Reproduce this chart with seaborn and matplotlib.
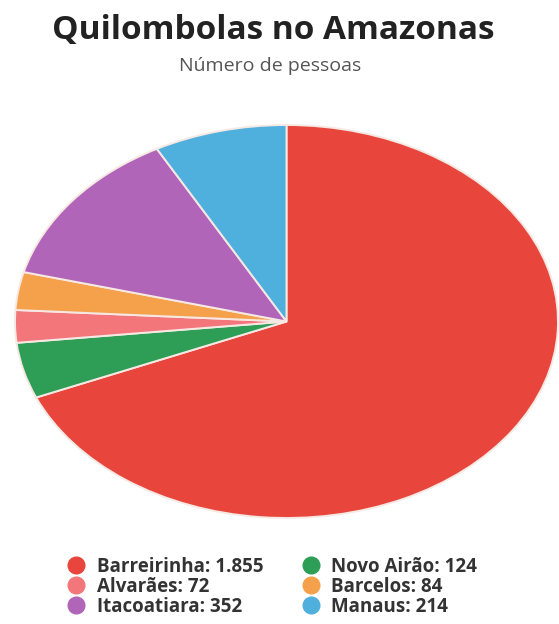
import matplotlib
matplotlib.use("Agg")
import matplotlib.pyplot as plt
from matplotlib.lines import Line2D
import seaborn as sns

TITLE = "Quilombolas no Amazonas"
SUBTITLE = "Número de pessoas"

municipios = ["Barreirinha", "Novo Airão", "Alvarães", "Barcelos", "Itacoatiara", "Manaus"]
pessoas = [1855, 124, 72, 84, 352, 214]
valores_txt = ["1.855", "124", "72", "84", "352", "214"]
cores = ["#E8453C", "#2E9E57", "#F2767A", "#F5A04A", "#B065B8", "#4FB0DE"]


def main() -> None:
    sns.set_theme(style="white")
    plt.rcParams["font.family"] = ["Open Sans", "DejaVu Sans"]

    fig = plt.figure(figsize=(5.59, 6.24), dpi=100)
    ax = fig.add_axes([15 / 559, 106 / 624, 543 / 559, 393 / 624])

    ax.pie(
        pessoas,
        colors=cores,
        startangle=90,
        counterclock=False,
        radius=1.0,
        wedgeprops={"edgecolor": "#F6E9E4", "linewidth": 1.4},
    )
    ax.set_aspect("auto")
    ax.set_xlim(-1.0, 1.0)
    ax.set_ylim(-1.0, 1.0)
    ax.axis("off")

    fig.text(273 / 559, 1 - 30 / 624, TITLE, ha="center", va="center",
             fontsize=24, fontweight="bold", color="#222222")
    fig.text(270 / 559, 1 - 66 / 624, SUBTITLE, ha="center", va="center",
             fontsize=14, color="#555555")

    handles = [
        Line2D([], [], marker="o", linestyle="none", markersize=12,
               markerfacecolor=c, markeredgecolor=c)
        for c in cores
    ]
    labels = [f"{m}: {v}" for m, v in zip(municipios, valores_txt)]
    # legend fills column-wise, reorder so rows read left to right
    order = [0, 2, 4, 1, 3, 5]
    leg = fig.legend(
        [handles[i] for i in order],
        [labels[i] for i in order],
        ncol=2,
        loc="center",
        bbox_to_anchor=(272 / 559, 1 - 587 / 624),
        frameon=False,
        handlelength=1.0,
        handletextpad=0.6,
        columnspacing=2.0,
        labelspacing=0.0,
        borderpad=0.0,
        prop={"size": 13.5, "weight": "bold"},
    )
    for t in leg.get_texts():
        t.set_color("#333333")

    fig.savefig("out.png", dpi=100)
    plt.close(fig)


if __name__ == "__main__":
    main()
